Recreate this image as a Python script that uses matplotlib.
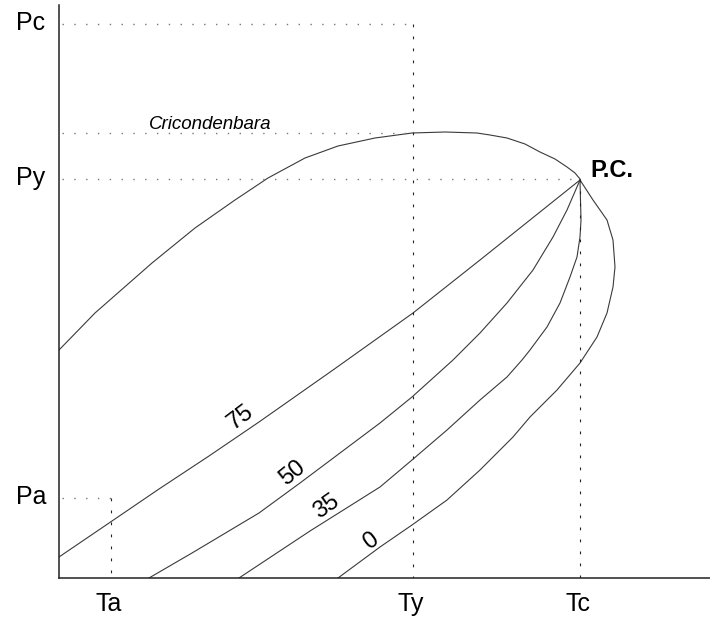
import matplotlib
matplotlib.use("Agg")
import matplotlib.pyplot as plt

plt.rcParams['font.family'] = ['Liberation Sans', 'DejaVu Sans']

T_burbuja = [0, 36, 93, 136, 176, 209, 246, 279, 316, 353, 386, 418, 431, 448, 466, 481, 496, 508, 516, 521]
P_burbuja = [228, 265, 315, 350, 378, 400, 420, 432, 440, 445, 446, 445, 443, 440, 434, 426, 419, 411, 405, 399]

T_0 = [521, 534, 548, 554, 556, 554, 548, 538, 521, 498, 471, 454, 421, 388, 353, 321, 279]
P_0 = [398, 378, 358, 338, 311, 291, 265, 241, 215, 188, 161, 141, 108, 78, 53, 31, 0]

T_35 = [521, 522, 521, 518, 511, 501, 488, 471, 463, 448, 421, 388, 353, 321, 251, 180]
P_35 = [398, 358, 341, 321, 301, 275, 251, 228, 218, 201, 178, 148, 118, 91, 47, 0]

T_50 = [521, 508, 494, 474, 448, 421, 394, 353, 321, 241, 200, 133, 90]
P_50 = [398, 368, 341, 308, 275, 245, 218, 181, 155, 95, 65, 25, 0]

T_75 = [521, 471, 421, 354, 274, 200, 150, 100, 53, 0]
P_75 = [398, 358, 318, 265, 208, 156, 122, 89, 57, 21]

curvas_calidad = ["0", "35", "50", "75"]

# valores de referencia en los ejes
Ta, Ty, Tc = 52, 354, 521
Pa, Py, Pcb, Pc = 80, 399, 445, 554

fig = plt.figure(figsize=(7.1, 6.19), dpi=100)
ax = fig.add_axes([59 / 710, 41 / 619, 651 / 710, 573 / 619])
ax.set_xlim(0, 651)
ax.set_ylim(0, 573)

for s in ['top', 'right']:
    ax.spines[s].set_visible(False)
for s in ['left', 'bottom']:
    ax.spines[s].set_linewidth(1.1)
    ax.spines[s].set_color('#222222')
ax.set_xticks([])
ax.set_yticks([])

lc = '#3a3a3a'
lw = 0.8
ax.plot(T_burbuja, P_burbuja, color=lc, lw=lw)
ax.plot(T_0, P_0, color=lc, lw=lw)
ax.plot(T_35, P_35, color=lc, lw=lw)
ax.plot(T_50, P_50, color=lc, lw=lw)
ax.plot(T_75, P_75, color=lc, lw=lw)

# lineas punteadas de referencia
hdot = dict(color='#777777', lw=1.0, linestyle=(0, (1, 7.5)))
vdot = dict(color='#222222', lw=0.8, linestyle=(0, (2.5, 8.3)))
ax.plot([3, Ty], [Pc, Pc], **hdot)
ax.plot([3, Ty], [Pcb, Pcb], **hdot)
ax.plot([3, Tc], [Py, Py], **hdot)
ax.plot([3, Ta], [Pa, Pa], **hdot)
ax.plot([Ty, Ty], [Pc, 0], **vdot)
ax.plot([Tc, Tc], [Py, 0], **vdot)
ax.plot([Ta, Ta], [Pa, 0], **vdot)

# etiquetas de los ejes
fs = 18
for txt, p in [("Pc", Pc), ("Py", Py), ("Pa", Pa)]:
    ax.text(-28, p - 6, txt, fontsize=fs, ha='center', va='baseline', clip_on=False)
for txt, t in [("Ta", Ta), ("Ty", Ty), ("Tc", Tc)]:
    ax.text(t - 2, -33, txt, fontsize=fs, ha='center', va='baseline', clip_on=False)

ax.text(Tc + 10, Py + 9, "P.C.", fontsize=17, fontweight='bold', ha='left', va='center')
ax.text(151, Pcb + 4, "Cricondenbara", fontsize=13.5, style='italic', ha='center', va='baseline')

# etiquetas de las curvas de calidad
pos_etiquetas = [(312, 37, 36), (267, 71, 35), (234, 105, 39), (182, 161, 37)]
for txt, (t, p, rot) in zip(curvas_calidad, pos_etiquetas):
    ax.text(t, p, txt, fontsize=17, rotation=rot, ha='center', va='center',
            rotation_mode='anchor')

fig.savefig("out.png", dpi=100)
